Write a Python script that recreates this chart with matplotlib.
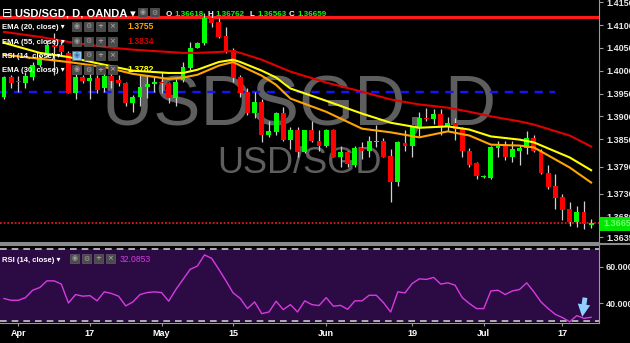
import matplotlib
matplotlib.use("Agg")
import matplotlib.pyplot as plt
from matplotlib.patches import Rectangle
from matplotlib.lines import Line2D
import numpy as np

FONT = ["Liberation Sans", "DejaVu Sans"]
plt.rcParams["font.family"] = FONT

# ---------------------------------------------------------------------------
# Data: USD/SGD daily candles (OANDA)
# ---------------------------------------------------------------------------
opens = [1.3943, 1.3987, 1.3978, 1.3974, 1.3987, 1.4013, 1.4039, 1.4056, 1.4056, 1.4039,
         1.3952, 1.3987, 1.3978, 1.3985, 1.3961, 1.3989, 1.3980, 1.3974, 1.3930, 1.3943,
         1.3965, 1.3971, 1.3976, 1.3974, 1.3941, 1.3980, 1.4006, 1.4050, 1.4061, 1.4115,
         1.4107, 1.4076, 1.4045, 1.3987, 1.3954, 1.3908, 1.3932, 1.3860, 1.3865, 1.3908,
         1.3849, 1.3871, 1.3821, 1.3869, 1.3847, 1.3834, 1.3871, 1.3812, 1.3821, 1.3793,
         1.3830, 1.3823, 1.3843, 1.3847, 1.3814, 1.3756, 1.3841, 1.3834, 1.3876, 1.3897,
         1.3895, 1.3906, 1.3878, 1.3886, 1.3873, 1.3825, 1.3797, 1.3767, 1.3766, 1.3830,
         1.3834, 1.3812, 1.3825, 1.3830, 1.3852, 1.3823, 1.3777, 1.3747, 1.3723, 1.3697,
         1.3668, 1.3690, 1.36618]
highs = [1.3989, 1.3991, 1.3989, 1.3998, 1.4019, 1.4035, 1.4067, 1.4083, 1.4067, 1.4043,
         1.3993, 1.3991, 1.3995, 1.3991, 1.3995, 1.3995, 1.3991, 1.3976, 1.3947, 1.3991,
         1.3991, 1.3987, 1.3998, 1.3976, 1.3982, 1.4019, 1.4063, 1.4063, 1.4126, 1.4122,
         1.4115, 1.4096, 1.4050, 1.3991, 1.3963, 1.3954, 1.3939, 1.3889, 1.3910, 1.3921,
         1.3876, 1.3876, 1.3871, 1.3889, 1.3869, 1.3873, 1.3873, 1.3834, 1.3823, 1.3834,
         1.3843, 1.3858, 1.3880, 1.3852, 1.3828, 1.3845, 1.3871, 1.3878, 1.3910, 1.3919,
         1.3915, 1.3915, 1.3899, 1.3897, 1.3876, 1.3830, 1.3799, 1.3771, 1.3836, 1.3845,
         1.3845, 1.3845, 1.3838, 1.3867, 1.3860, 1.3828, 1.3793, 1.3773, 1.3729, 1.3712,
         1.3703, 1.3714, 1.36762]
lows = [1.3937, 1.3963, 1.3954, 1.3963, 1.3980, 1.4008, 1.4030, 1.3991, 1.4035, 1.3952,
        1.3937, 1.3974, 1.3939, 1.3952, 1.3954, 1.3963, 1.3967, 1.3923, 1.3910, 1.3923,
        1.3941, 1.3954, 1.3952, 1.3930, 1.3923, 1.3976, 1.4002, 1.4050, 1.4056, 1.4096,
        1.4072, 1.4039, 1.3976, 1.3943, 1.3904, 1.3897, 1.3843, 1.3854, 1.3860, 1.3845,
        1.3828, 1.3812, 1.3819, 1.3843, 1.3823, 1.3832, 1.3810, 1.3790, 1.3790, 1.3790,
        1.3806, 1.3812, 1.3832, 1.3810, 1.3712, 1.3747, 1.3823, 1.3812, 1.3856, 1.3889,
        1.3884, 1.3860, 1.3867, 1.3849, 1.3812, 1.3790, 1.3762, 1.3765, 1.3762, 1.3812,
        1.3804, 1.3801, 1.3793, 1.3817, 1.3821, 1.3773, 1.3740, 1.3697, 1.3673, 1.3660,
        1.3658, 1.3653, 1.36563]
closes = [1.3987, 1.3974, 1.3976, 1.3989, 1.4013, 1.4026, 1.4056, 1.4052, 1.4041, 1.3952,
          1.3987, 1.3978, 1.3985, 1.3958, 1.3989, 1.3978, 1.3974, 1.3930, 1.3943, 1.3965,
          1.3971, 1.3976, 1.3974, 1.3941, 1.3976, 1.4008, 1.4050, 1.4061, 1.4115, 1.4104,
          1.4074, 1.4041, 1.3985, 1.3952, 1.3908, 1.3932, 1.3860, 1.3867, 1.3908, 1.3849,
          1.3871, 1.3821, 1.3869, 1.3845, 1.3834, 1.3871, 1.3812, 1.3821, 1.3795, 1.3830,
          1.3823, 1.3845, 1.3847, 1.3812, 1.3756, 1.3843, 1.3834, 1.3876, 1.3897, 1.3895,
          1.3906, 1.3878, 1.3886, 1.3873, 1.3823, 1.3793, 1.3769, 1.3769, 1.3832, 1.3834,
          1.3812, 1.3828, 1.3830, 1.3852, 1.3823, 1.3777, 1.3745, 1.3721, 1.3694, 1.3668,
          1.3690, 1.3664, 1.36659]

# EMA lines, sampled at these bar indices
ema_idx = [0, 5, 9, 14, 18, 23, 25, 27, 30, 32, 33, 36, 38, 40, 45, 50, 54, 58, 62, 65,
           68, 72, 74, 79, 82]
ema55 = [1.4085, 1.4074, 1.4063, 1.4052, 1.4046, 1.4041, 1.4039, 1.4039, 1.4041, 1.4043,
         1.4039, 1.4024, 1.4011, 1.3998, 1.3974, 1.3954, 1.3937, 1.3926, 1.3919, 1.3910,
         1.3900, 1.3889, 1.3882, 1.3858, 1.3834]
ema30 = [1.4061, 1.4039, 1.4030, 1.4013, 1.4000, 1.3995, 1.3995, 1.4002, 1.4019, 1.4024,
         1.4019, 1.4000, 1.3985, 1.3961, 1.3934, 1.3906, 1.3886, 1.3875, 1.3878, 1.3871,
         1.3856, 1.3849, 1.3843, 1.3810, 1.3782]
ema20 = [1.4035, 1.4026, 1.4019, 1.4008, 1.3993, 1.3982, 1.3985, 1.3991, 1.4011, 1.4019,
         1.4011, 1.3989, 1.3969, 1.3939, 1.3910, 1.3873, 1.3865, 1.3854, 1.3867, 1.3858,
         1.3838, 1.3836, 1.3832, 1.3788, 1.3755]

rsi = [42.5, 41.5, 41.5, 43.0, 47.1, 48.6, 52.3, 52.3, 50.5, 40.0,
       44.7, 43.8, 44.1, 41.2, 46.2, 45.3, 43.8, 38.4, 40.6, 44.7,
       45.8, 46.2, 45.8, 41.0, 47.5, 53.1, 58.7, 60.5, 66.7, 64.8,
       58.7, 52.3, 45.6, 42.5, 36.9, 40.6, 34.1, 35.0, 41.0, 36.3,
       39.1, 35.0, 41.2, 39.1, 38.6, 43.0, 38.2, 38.7, 36.5, 41.2,
       41.2, 44.3, 44.3, 40.2, 35.0, 46.2, 45.6, 50.8, 53.4, 53.1,
       54.2, 50.5, 51.2, 49.9, 43.0, 39.7, 36.9, 36.9, 46.7, 47.1,
       44.7, 46.7, 47.5, 51.2, 46.2, 40.6, 36.9, 33.7, 31.9, 29.6,
       33.0, 31.5, 32.0853]

tick_idx = [2, 12, 22, 32, 45, 57, 67, 78]
tick_labels = ["Apr", "17", "May", "15", "Jun", "19", "Jul", "17"]
price_ticks = [1.415, 1.41, 1.405, 1.40, 1.395, 1.39, 1.385, 1.379, 1.373, 1.368, 1.3635]
rsi_ticks = [60, 40]

resistance = 1.4118
support = 1.3953
support_end = 77
arrow_idx = 81

# ---------------------------------------------------------------------------
# Style
# ---------------------------------------------------------------------------
BG = "#000000"
UP = "#00ff00"
DOWN = "#ff0000"
WICK = "#d0d0d0"
C_EMA20 = "#ffa500"
C_EMA30 = "#ffff00"
C_EMA55 = "#e00000"
C_RSI = "#d63ae0"
RSI_FILL = "#2c0b45"
AXIS = "#9a9a9a"

W, H = 630, 343


def fx(px):
    return px / W


def fy(py):
    return 1 - py / H


fig = plt.figure(figsize=(W / 100, H / 100), dpi=100, facecolor=BG)
ax = fig.add_axes([0, fy(243), fx(599), 243 / H], facecolor=BG)
axr = fig.add_axes([0, fy(323), fx(599), 78 / H], facecolor=BG)

x = np.arange(len(closes))
o = np.array(opens)
h = np.array(highs)
l = np.array(lows)
c = np.array(closes)

# watermark
ax.text(0.5, 0.486, "USDSGD, D", transform=ax.transAxes, ha="center", va="baseline",
        fontsize=51, color="#5e5e5e", zorder=0.5)
ax.text(0.5, 0.288, "USD/SGD", transform=ax.transAxes, ha="center", va="baseline",
        fontsize=26, color="#5e5e5e", zorder=0.5)

# horizontal levels
ax.axhline(resistance, color="#ff1a1a", lw=2.2, zorder=1.5)
ax.hlines(support, -1, support_end, color="#1414ff", lw=1.7,
          linestyles=(0, (3.5, 2.8)), zorder=1.5)
ax.axhline(c[-1], color="#ff2020", lw=1.1, ls=(0, (1.2, 1.2)), zorder=1.5)

# candles
up = c >= o
colors = np.where(up, UP, DOWN)
ax.vlines(x, l, h, color=WICK, lw=0.9, zorder=2)
raw = np.abs(c - o)
body = np.maximum(raw, 0.00018)
bottom = np.minimum(o, c) - (body - raw) / 2
ax.bar(x, body, bottom=bottom, width=0.68, color=colors, lw=0, zorder=3)

# EMAs
ax.plot(ema_idx, ema55, color=C_EMA55, lw=1.5, zorder=4)
ax.plot(ema_idx, ema20, color=C_EMA20, lw=1.5, zorder=4)
ax.plot(ema_idx, ema30, color=C_EMA30, lw=1.5, zorder=4)

ax.set_xlim(-0.56, 83.1)
ax.set_ylim(1.36226, 1.41548)
ax.set_xticks([])
ax.yaxis.tick_right()
ax.set_yticks(price_ticks)
ax.set_yticklabels([f"{v:.5f}" for v in price_ticks])
ax.tick_params(axis="y", length=3, color=AXIS, labelcolor="#e6e6e6", labelsize=6.5, pad=2)
for lab in ax.get_yticklabels():
    lab.set_fontweight("bold")
for side in ["left", "top"]:
    ax.spines[side].set_visible(False)
ax.spines["right"].set_color(AXIS)
ax.spines["bottom"].set_color("#8a8a8a")
ax.spines["bottom"].set_linewidth(1.5)

# RSI panel
axr.axhspan(30, 70, color=RSI_FILL, zorder=0)
axr.axhline(70, color="#c8c8c8", lw=1.2, ls=(0, (4, 3)), zorder=1)
axr.axhline(30, color="#c8c8c8", lw=1.2, ls=(0, (4, 3)), zorder=1)
axr.plot(x, rsi, color=C_RSI, lw=1.0, zorder=3)
axr.annotate("", xy=(arrow_idx - 0.3, 30.8), xytext=(arrow_idx + 0.2, 44.5),
             arrowprops=dict(arrowstyle="simple,head_width=0.9,head_length=0.9,tail_width=0.35",
                             color="#8fd0ff", lw=0), zorder=5)
axr.set_xlim(-0.56, 83.1)
axr.set_ylim(28.9, 72.2)
axr.yaxis.tick_right()
axr.set_yticks(rsi_ticks)
axr.set_yticklabels([f"{v:.4f}" for v in rsi_ticks])
axr.set_xticks(tick_idx)
axr.set_xticklabels(tick_labels)
axr.tick_params(axis="y", length=3, color=AXIS, labelcolor="#e6e6e6", labelsize=6.5, pad=2)
axr.tick_params(axis="x", length=2, color=AXIS, labelcolor="#ffffff", labelsize=6.5, pad=2)
for lab in axr.get_yticklabels() + axr.get_xticklabels():
    lab.set_fontweight("bold")
axr.spines["left"].set_visible(False)
for side in ["right", "bottom", "top"]:
    axr.spines[side].set_color(AXIS)
axr.spines["top"].set_color("#8a8a8a")
axr.spines["top"].set_linewidth(1.5)

# separator across the full width
fig.add_artist(Line2D([0, 1], [fy(244), fy(244)], color="#8a8a8a", lw=1.5,
                      transform=fig.transFigure))

# current price tag on the axis
fig.patches.append(Rectangle((fx(600), fy(231)), 30 / W, 14 / H, transform=fig.transFigure,
                             facecolor="#00e600", edgecolor="none", zorder=1))
fig.text(fx(603), fy(224), f"{c[-1]:.5f}", color="#6dff6d", fontsize=6.5, fontweight="bold",
         va="center", ha="left", zorder=3)


# ---------------------------------------------------------------------------
# Header and indicator legends
# ---------------------------------------------------------------------------
def icons(x0, yc, n=4, first_blue=False):
    glyphs = ["\u25c9", "\u2699", "+", "\u00d7"][:n]
    for k, g in enumerate(glyphs):
        xl = x0 + k * 12
        fc = "#8ec6ee" if (first_blue and k == 0) else "#4a4a4a"
        fig.patches.append(Rectangle((fx(xl), fy(yc + 4.5)), 8.5 / W, 9 / H,
                                     transform=fig.transFigure, facecolor=fc,
                                     edgecolor="#6a6a6a", lw=0.4, zorder=1))
        gc = "#3a6fa0" if (first_blue and k == 0) else "#a0a0a0"
        fig.text(fx(xl + 4.25), fy(yc), g, color=gc, fontsize=5, ha="center", va="center",
                 family="DejaVu Sans", fontweight="bold", zorder=3)


fig.text(fx(2), fy(17), "\u229f", color="white", fontsize=9, family="DejaVu Sans",
         va="baseline")
fig.text(fx(15), fy(16.5), "USD/SGD, D, OANDA \u25be", color="white", fontsize=8,
         fontweight="bold", va="baseline")
icons(138, 12.5, n=2)

ohlc = [("O", opens[-1], 166), ("H", highs[-1], 207), ("L", lows[-1], 249), ("C", closes[-1], 289)]
for key, val, xp in ohlc:
    fig.text(fx(xp), fy(16), key, color="white", fontsize=5.8, fontweight="bold", va="baseline")
    fig.text(fx(xp + 8), fy(16), f"{val:.5f}", color="#00ff00", fontsize=5.8,
             fontweight="bold", va="baseline")

rows = [
    ("EMA (20, close)", 26, f"{ema20[-1]:.4f}", C_EMA20, False),
    ("EMA (55, close)", 41, f"{ema55[-1]:.4f}", "#d00000", False),
    ("RSI (14, close)", 55, None, None, True),
    ("EMA (30, close)", 69.5, f"{ema30[-1]:.4f}", C_EMA30, False),
]
for name, yc, val, col, blue in rows:
    fig.text(fx(2), fy(yc + 2.7), name + " \u25be", color="white", fontsize=5.6,
             fontweight="bold", va="baseline")
    icons(72, yc, first_blue=blue)
    if val is not None:
        fig.text(fx(127), fy(yc + 3), val, color=col, fontsize=6.2, fontweight="bold",
                 va="baseline")

fig.text(fx(2), fy(261.5), "RSI (14, close) \u25be", color="white", fontsize=5.6,
         fontweight="bold", va="baseline")
icons(70, 258.5)
fig.text(fx(120), fy(261.8), f"{rsi[-1]:.4f}", color=C_RSI, fontsize=6.2, va="baseline")

fig.savefig("out.png", dpi=100, facecolor=BG)
